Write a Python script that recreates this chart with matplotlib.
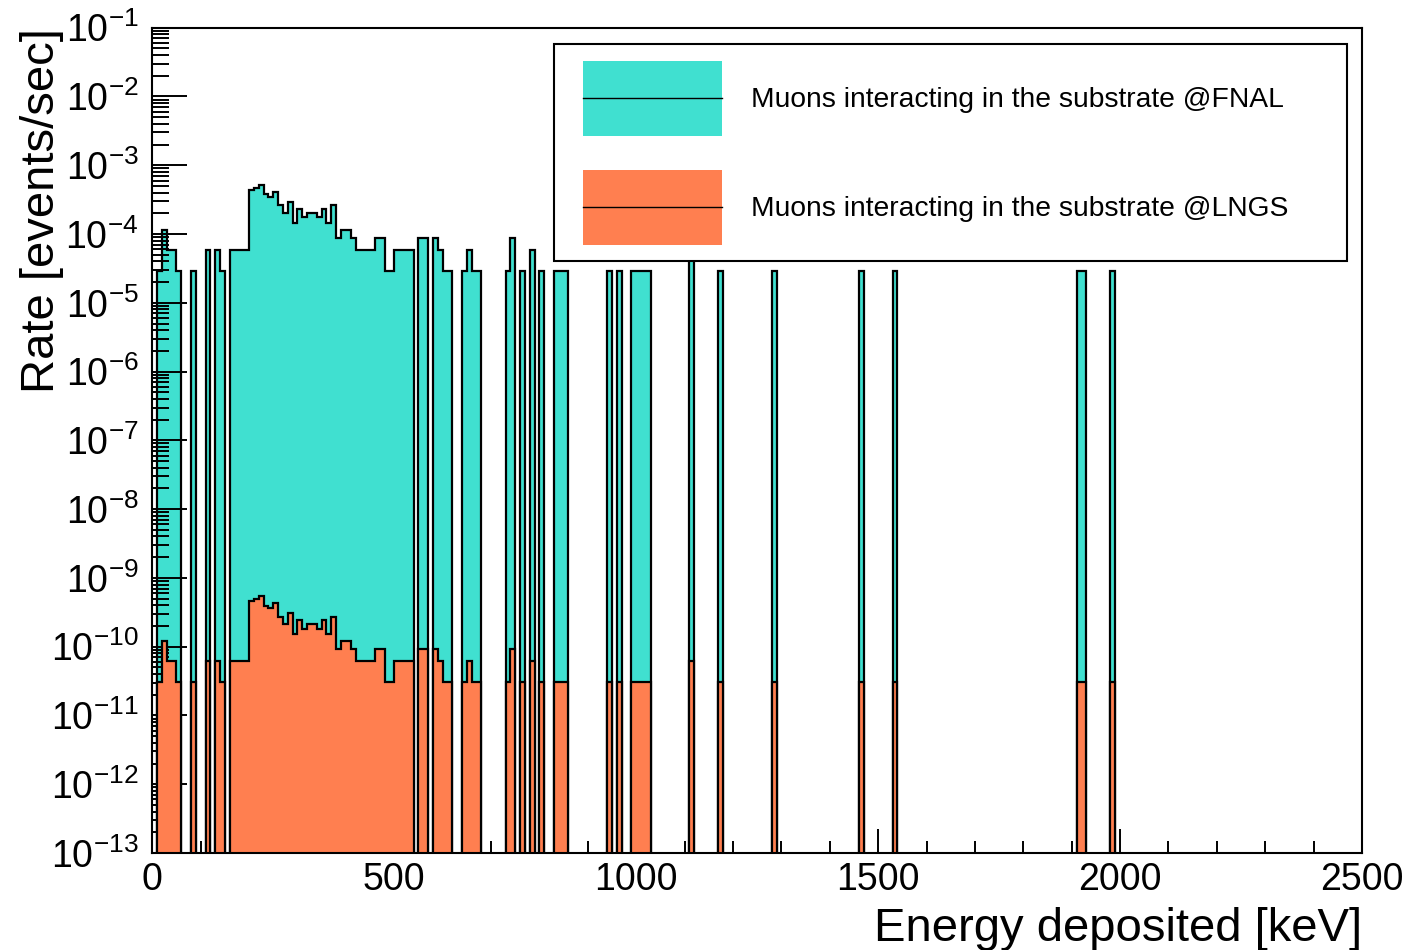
import numpy as np
import matplotlib
matplotlib.use("Agg")
import matplotlib.pyplot as plt
from matplotlib.patches import Rectangle
from matplotlib.lines import Line2D
from matplotlib.ticker import LogLocator, MultipleLocator, LogFormatterSciNotation, NullFormatter

plt.rcParams['font.family'] = ['Liberation Sans', 'DejaVu Sans']
plt.rcParams['mathtext.fontset'] = 'custom'
plt.rcParams['mathtext.rm'] = 'Liberation Sans'
plt.rcParams['mathtext.it'] = 'Liberation Sans:italic'
plt.rcParams['mathtext.default'] = 'regular'

# histogram: 10 keV bins from 0 to 2500 keV
bin_width = 10
e_max = 2500

# lower edge of every non-empty bin [keV] and its number of entries
bin_low_kev = [10, 20, 30, 40, 50, 80, 110, 130, 140,
               160, 170, 180, 190,
               200, 210, 220, 230, 240, 250, 260, 270, 280, 290,
               300, 310, 320, 330, 340, 350, 360, 370, 380, 390,
               400, 410, 420, 430, 440, 450, 460, 470, 480, 490,
               500, 510, 520, 530, 550, 560, 580, 590,
               600, 610, 640, 650, 660, 670,
               730, 740, 760, 780, 800, 830, 840, 850,
               940, 960, 990, 1000, 1010, 1020,
               1110, 1170, 1280, 1460, 1530, 1910, 1920, 1980]
bin_counts = [1, 4, 2, 2, 1, 1, 2, 2, 1,
              2, 2, 2, 2,
              15, 16, 18, 13, 12, 14, 9, 7, 10, 5,
              8, 6, 7, 7, 6, 8, 5, 9, 3, 4,
              4, 3, 2, 2, 2, 2, 3, 3, 1, 1,
              2, 2, 2, 2, 3, 3, 3, 2,
              1, 1, 1, 2, 1, 1,
              1, 3, 1, 2, 1, 1, 1, 1,
              1, 1, 1, 1, 1, 1,
              2, 1, 1, 1, 1, 1, 1, 1]

# rate carried by one entry at each site [events/sec]
rate_per_entry_fnal = 2.9e-5
rate_per_entry_lngs = 3.05e-11

labels = ["Muons interacting in the substrate @FNAL",
          "Muons interacting in the substrate @LNGS"]
colors = ["#40E0D0", "#FF7F50"]

edges = np.arange(0, e_max + bin_width, bin_width)
counts = np.zeros(len(edges) - 1)
counts[np.array(bin_low_kev) // bin_width] = bin_counts

floor = 1e-20  # empty bins fall below the axis
rate_fnal = np.where(counts > 0, counts * rate_per_entry_fnal, floor)
rate_lngs = np.where(counts > 0, counts * rate_per_entry_lngs, floor)

W, H = 1407, 950
fig = plt.figure(figsize=(W / 100, H / 100), dpi=100)
ax = fig.add_axes([152.3 / W, 1 - 853 / H, (1362 - 152.3) / W, (853 - 27.7) / H])

ax.stairs(rate_fnal, edges, baseline=floor, fill=True, facecolor=colors[0],
          edgecolor='black', linewidth=1.6, zorder=1)
ax.stairs(rate_lngs, edges, baseline=floor, fill=True, facecolor=colors[1],
          edgecolor='black', linewidth=1.6, zorder=2)

ax.set_yscale('log')
ax.set_xlim(0, e_max)
ax.set_ylim(1e-13, 1e-1)

ax.xaxis.set_major_locator(MultipleLocator(500))
ax.xaxis.set_minor_locator(MultipleLocator(100))
ax.yaxis.set_major_locator(LogLocator(base=10, numticks=100))
ax.yaxis.set_minor_locator(LogLocator(base=10, subs=np.arange(2, 10), numticks=100))
ax.yaxis.set_major_formatter(LogFormatterSciNotation())
ax.yaxis.set_minor_formatter(NullFormatter())

ax.tick_params(axis='both', which='both', direction='in', width=1.4, colors='black')
ax.tick_params(axis='y', which='major', length=25, labelsize=27, pad=10)
ax.tick_params(axis='y', which='minor', length=12.5)
ax.tick_params(axis='x', which='major', length=17, labelsize=27, pad=6.5)
ax.tick_params(axis='x', which='minor', length=8.5)
for s in ax.spines.values():
    s.set_linewidth(1.5)

ax.set_xlabel("Energy deposited [keV]", fontsize=34, loc='right')
ax.xaxis.set_label_coords(1.0, -0.066)
ax.set_ylabel("Rate [events/sec]", fontsize=34, loc='top')
ax.yaxis.set_label_coords(-0.073, 1.0)

# legend box drawn in pixel positions of the original
def fx(px):
    return px / W

def fy(py):
    return 1 - py / H

fig.add_artist(Rectangle((fx(554), fy(261)), fx(1347) - fx(554), fy(44) - fy(261),
                         transform=fig.transFigure, facecolor='white',
                         edgecolor='black', linewidth=1.5, zorder=5))
for yc, lab, col in zip([98, 207], labels, colors):
    fig.add_artist(Rectangle((fx(583), fy(yc + 38)), fx(722) - fx(583), fy(yc - 37) - fy(yc + 38),
                             transform=fig.transFigure, facecolor=col,
                             edgecolor='none', zorder=6))
    fig.add_artist(Line2D([fx(583), fx(722)], [fy(yc), fy(yc)], transform=fig.transFigure,
                          color='black', linewidth=1.0, zorder=7))
    fig.text(fx(751), fy(yc + 2), lab, fontsize=20.3, ha='left', va='center', zorder=7)

fig.savefig("out.png", dpi=100)
